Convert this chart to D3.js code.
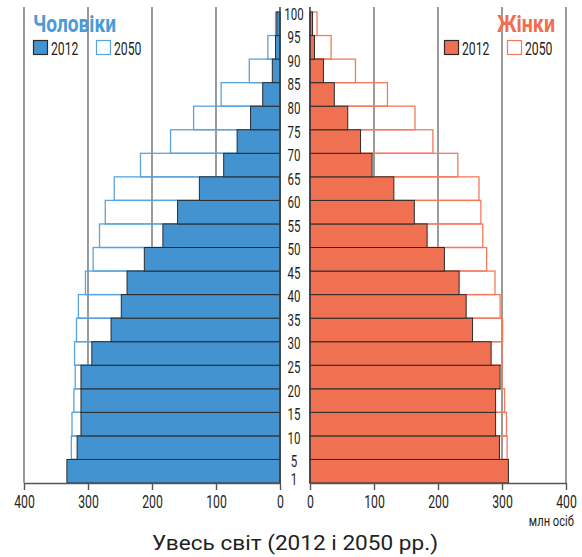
<!DOCTYPE html>
<html>
<head>
<meta charset="utf-8">
<script src="https://cdn.jsdelivr.net/npm/d3@7"></script>
<style>
  html, body { margin: 0; padding: 0; background: #fff; }
  text { font-family: Roboto, "Noto Sans", sans-serif; }
</style>
</head>
<body>
<svg id="chart" width="582" height="557"></svg>
<script>
// Age groups (bottom to top): 0-4, 5-9, ..., 95-99
const ageGroups = ["0-4","5-9","10-14","15-19","20-24","25-29","30-34","35-39","40-44","45-49",
                   "50-54","55-59","60-64","65-69","70-74","75-79","80-84","85-89","90-94","95-99"];
// Boundary labels, top to bottom
const ageLabels = ["100","95","90","85","80","75","70","65","60","55","50","45","40","35","30","25","20","15","10","5","1"];
// Values, million people (bottom to top, same order as ageGroups)
const men2012   = [333,317,311,311,311,294,264,248,239,212,183,160,126,88,67,46,27,12,7,5];
const men2050   = [325,326,325,322,320,321,318,315,304,292,282,273,259,218,171,135,92,48,19,7];
const women2012 = [310,296,290,290,297,283,254,244,233,210,183,163,131,97,79,59,38,21,7,4];
const women2050 = [305,308,307,304,300,300,301,297,289,276,270,267,264,231,192,164,121,71,33,11];
const tickValues = [0,100,200,300,400];
const menTitle = "Чоловіки", womenTitle = "Жінки";
const years = ["2012","2050"];
const unitLabel = "млн осіб";
const chartTitle = "Увесь світ (2012 і 2050 рр.)";

(function () {
const blue = "#4393d0", blueLine = "#5aa3dc";
const orange = "#f07052", orangeLine = "#f47a5d";
const dark = "#2b2b2b", grid = "#707070", ink = "#231f20";
const SX = 0.68; // condensed look

const svg = d3.select("#chart");
const yTop = 7, yBottom = 483, barTop = 12;
const xL = d3.scaleLinear().domain([0,400]).range([280,24]);
const xR = d3.scaleLinear().domain([0,400]).range([310,566]);
const y = d3.scaleBand().domain(ageGroups.slice().reverse()).range([barTop, yBottom]).padding(0);

function condText(parent, x, yy, str, size, sx, anchor) {
  return parent.append("text")
    .attr("transform", `translate(${x},${yy}) scale(${sx},1)`)
    .attr("text-anchor", anchor || "start").attr("font-size", size).attr("fill", ink).text(str);
}

// gridlines
const gGrid = svg.append("g");
tickValues.filter(t => t > 0).forEach(t => {
  gGrid.append("line").attr("x1", xL(t)).attr("x2", xL(t)).attr("y1", yTop).attr("y2", yBottom)
    .attr("stroke", grid).attr("stroke-width", 1.4);
  gGrid.append("line").attr("x1", xR(t)).attr("x2", xR(t)).attr("y1", yTop).attr("y2", yBottom)
    .attr("stroke", grid).attr("stroke-width", 1.4);
});

// 2050 outlines
svg.append("g").selectAll("rect").data(ageGroups).join("rect")
  .attr("x", (d,i) => xL(men2050[i])).attr("y", d => y(d))
  .attr("width", (d,i) => xL(0) - xL(men2050[i])).attr("height", y.bandwidth())
  .attr("fill", "none").attr("stroke", blueLine).attr("stroke-width", 1.3);
svg.append("g").selectAll("rect").data(ageGroups).join("rect")
  .attr("x", xR(0)).attr("y", d => y(d))
  .attr("width", (d,i) => xR(women2050[i]) - xR(0)).attr("height", y.bandwidth())
  .attr("fill", "none").attr("stroke", orangeLine).attr("stroke-width", 1.3);

// 2012 bars
svg.append("g").selectAll("rect").data(ageGroups).join("rect")
  .attr("x", (d,i) => xL(men2012[i])).attr("y", d => y(d))
  .attr("width", (d,i) => xL(0) - xL(men2012[i])).attr("height", y.bandwidth())
  .attr("fill", blue).attr("stroke", dark).attr("stroke-width", 1);
svg.append("g").selectAll("rect").data(ageGroups).join("rect")
  .attr("x", xR(0)).attr("y", d => y(d))
  .attr("width", (d,i) => xR(women2012[i]) - xR(0)).attr("height", y.bandwidth())
  .attr("fill", orange).attr("stroke", dark).attr("stroke-width", 1);

// zero lines
[xL(0), xR(0)].forEach(x => svg.append("line").attr("x1", x).attr("x2", x).attr("y1", yTop).attr("y2", yBottom)
  .attr("stroke", "#3a3a3a").attr("stroke-width", 1.5));

// axes
function styleAxis(g) {
  g.select(".domain").attr("stroke", "#555").attr("stroke-width", 1.4);
  g.selectAll(".tick line").attr("stroke", "#555").attr("stroke-width", 1.4);
  g.selectAll(".tick text").attr("font-size", 18).attr("fill", ink)
    .attr("font-family", "Roboto, sans-serif").attr("transform", `scale(${SX},1)`);
}
svg.append("g").attr("transform", `translate(0,${yBottom})`)
  .call(d3.axisBottom(xL).tickValues(tickValues).tickSize(7).tickSizeOuter(0).tickPadding(5)).call(styleAxis);
svg.append("g").attr("transform", `translate(0,${yBottom})`)
  .call(d3.axisBottom(xR).tickValues(tickValues).tickSize(7).tickSizeOuter(0).tickPadding(5)).call(styleAxis);

// age labels
const gAge = svg.append("g");
ageLabels.forEach((l,i) => {
  const yy = i === ageLabels.length - 1 ? yBottom - 4 : barTop + i * y.bandwidth() + 2;
  condText(gAge, 294, yy, l, 16, 0.72, "middle").attr("dy", "0.36em");
});

// legends
svg.append("text").attr("x", 33).attr("y", 31.5).attr("textLength", 83).attr("lengthAdjust", "spacingAndGlyphs")
  .attr("font-size", 23).attr("font-weight", "bold").attr("fill", "#4a9ad8").text(menTitle);
svg.append("text").attr("x", 497).attr("y", 31.5).attr("textLength", 58).attr("lengthAdjust", "spacingAndGlyphs")
  .attr("font-size", 23).attr("font-weight", "bold").attr("fill", "#f26e50").text(womenTitle);

function legendItem(x, fill, stroke, label) {
  svg.append("rect").attr("x", x).attr("y", 40.5).attr("width", 14).attr("height", 14)
    .attr("fill", fill).attr("stroke", stroke).attr("stroke-width", 1.2);
  condText(svg, x + 17.5, 55, label, 18, SX, "start");
}
legendItem(33.5, blue, dark, years[0]);
legendItem(96.5, "#fff", blueLine, years[1]);
legendItem(444.5, orange, dark, years[0]);
legendItem(507.5, "#fff", orangeLine, years[1]);

condText(svg, 574, 526, unitLabel, 14, 0.8, "end");
svg.append("text").attr("x", 152).attr("y", 550).attr("textLength", 286).attr("lengthAdjust", "spacingAndGlyphs")
  .attr("font-family", "'Open Sans', 'Noto Sans', sans-serif").attr("font-size", 21).attr("fill", ink)
  .text(chartTitle);
})();
</script>
</body>
</html>
